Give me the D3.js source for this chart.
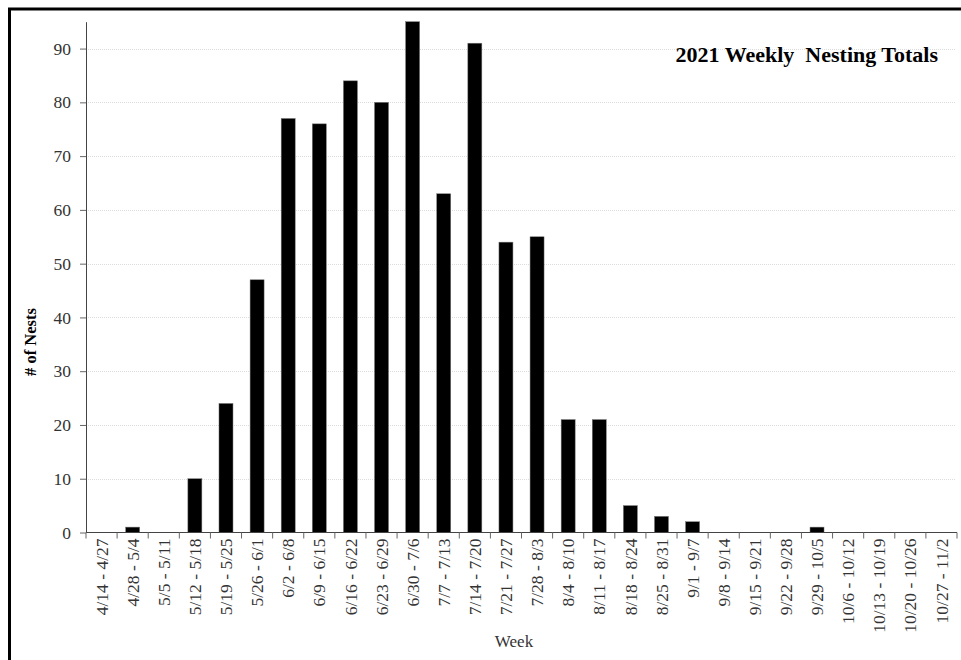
<!DOCTYPE html>
<html>
<head>
<meta charset="utf-8">
<script src="https://cdn.jsdelivr.net/npm/d3@7"></script>
<style>
html,body{margin:0;padding:0;background:#fff;}
svg{display:block;}
</style>
</head>
<body>
<svg id="chart" width="961" height="660"></svg>
<script>
const weeks = ["4/14 - 4/27","4/28 - 5/4","5/5 - 5/11","5/12 - 5/18","5/19 - 5/25","5/26 - 6/1","6/2 - 6/8","6/9 - 6/15","6/16 - 6/22","6/23 - 6/29","6/30 - 7/6","7/7 - 7/13","7/14 - 7/20","7/21 - 7/27","7/28 - 8/3","8/4 - 8/10","8/11 - 8/17","8/18 - 8/24","8/25 - 8/31","9/1 - 9/7","9/8 - 9/14","9/15 - 9/21","9/22 - 9/28","9/29 - 10/5","10/6 - 10/12","10/13 - 10/19","10/20 - 10/26","10/27 - 11/2"];
const nests = [0,1,0,10,24,47,77,76,84,80,95,63,91,54,55,21,21,5,3,2,0,0,0,1,0,0,0,0];
const yTicks = [0,10,20,30,40,50,60,70,80,90];
const yMax = 95;
const title = "2021 Weekly  Nesting Totals";
const xTitle = "Week";
const yTitle = "# of Nests";

(function(){
const svg = d3.select("#chart");
const pL = 86, pR = 957, pT = 21.7, pB = 532.5;
const serif = "'Liberation Serif','Times New Roman',serif";

// outer frame
svg.append("rect").attr("x",9.5).attr("y",9).attr("width",1000).attr("height",700)
  .attr("fill","none").attr("stroke","#000").attr("stroke-width",3);

const x = d3.scaleBand().domain(weeks).range([pL,pR]).paddingInner(0.55).paddingOuter(0.275);
const xb = d3.scaleBand().domain(weeks).range([pL,pR]).padding(0);
const y = d3.scaleLinear().domain([0,yMax]).range([pB,pT]);

// grid
svg.append("g").selectAll("line").data(yTicks.filter(d=>d>0)).join("line")
  .attr("x1",pL).attr("x2",pR-2)
  .attr("y1",d=>Math.round(y(d))+0.5).attr("y2",d=>Math.round(y(d))+0.5)
  .attr("stroke","#dcdcdc").attr("stroke-width",1).attr("stroke-dasharray","1,1");

// bars
svg.append("g").selectAll("rect").data(weeks).join("rect")
  .attr("x",d=>x(d)).attr("width",x.bandwidth())
  .attr("y",(d,i)=>y(nests[i])).attr("height",(d,i)=>y(0)-y(nests[i]))
  .attr("fill","#000").attr("stroke","#777").attr("stroke-width",0.5);

// y axis
const ya = svg.append("g").attr("transform",`translate(${pL},0)`)
  .call(d3.axisLeft(y).tickValues(yTicks).tickSize(6).tickPadding(9).tickSizeOuter(0));
ya.select(".domain").attr("stroke","#444");
ya.selectAll(".tick line").attr("stroke","#666");
ya.selectAll(".tick text").attr("font-family",serif).attr("font-size",17.5).attr("fill","#333");

// x axis
svg.append("line").attr("x1",pL).attr("x2",pR).attr("y1",pB).attr("y2",pB)
  .attr("stroke","#444").attr("stroke-width",1);
const bounds = weeks.map(d=>xb(d)).concat([pR]);
svg.append("g").selectAll("line").data(bounds).join("line")
  .attr("x1",d=>d).attr("x2",d=>d).attr("y1",pB).attr("y2",pB+6)
  .attr("stroke","#666");
svg.append("g").selectAll("text").data(weeks).join("text")
  .attr("transform",d=>`translate(${x(d)+x.bandwidth()/2},${pB+6}) rotate(-90)`)
  .attr("text-anchor","end").attr("dy","0.35em")
  .attr("font-family",serif).attr("font-size",17.5).attr("fill","#333")
  .text(d=>d);

// titles
svg.append("text").attr("x",938).attr("y",62).attr("text-anchor","end")
  .style("white-space","pre")
  .attr("font-family",serif).attr("font-weight","bold").attr("font-size",22).attr("fill","#000")
  .text(title);
svg.append("text").attr("x",514).attr("y",647).attr("text-anchor","middle")
  .attr("font-family",serif).attr("font-size",17).attr("fill","#333").text(xTitle);
svg.append("text").attr("transform","translate(36,342) rotate(-90)").attr("text-anchor","middle")
  .attr("font-family",serif).attr("font-weight","bold").attr("font-size",16.5).attr("fill","#000").text(yTitle);
})();
</script>
</body>
</html>
